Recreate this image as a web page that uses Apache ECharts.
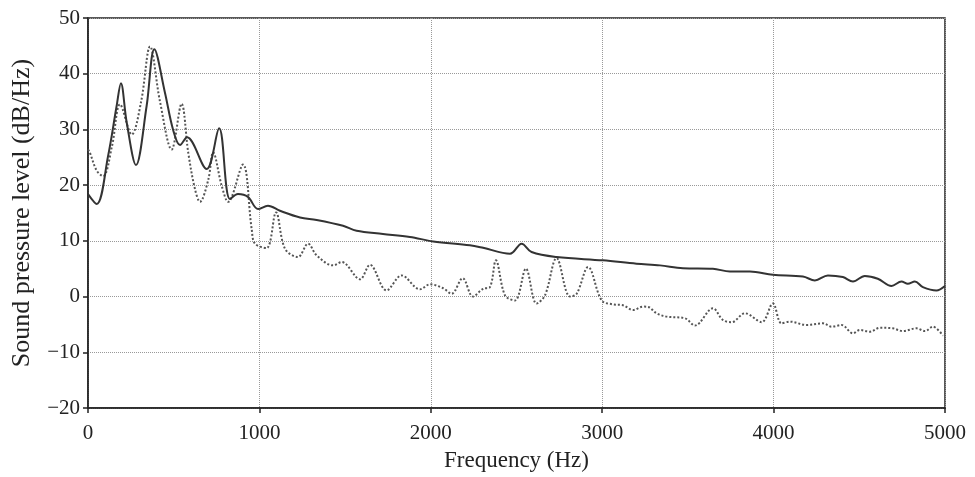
<!DOCTYPE html>
<html>
<head>
<meta charset="utf-8">
<script src="https://cdn.jsdelivr.net/npm/echarts@6/dist/echarts.min.js"></script>
<style>html,body{margin:0;padding:0;background:#fff}#c{width:975px;height:477px}</style>
</head>
<body>
<div id="c"></div>
<script>
var xTicks = [0, 1000, 2000, 3000, 4000, 5000];
var yTicks = [-20, -10, 0, 10, 20, 30, 40, 50];

var solidFreq = [0, 51, 117, 167, 192, 226, 280, 342, 387, 449, 496, 537, 578, 692, 765, 828, 875, 933, 992, 1050, 1120, 1237, 1334, 1488, 1567, 1721, 1878, 2014, 2228, 2305, 2462, 2530, 2588, 2734, 3004, 3200, 3337, 3471, 3646, 3745, 3862, 3996, 4171, 4241, 4317, 4404, 4463, 4532, 4608, 4688, 4746, 4783, 4824, 4871, 4950, 5000];
var solidLevel = [18.4, 16.6, 25.2, 34.2, 38.3, 31.2, 23.6, 34.2, 44.4, 36.6, 30.0, 27.2, 28.6, 22.9, 30.2, 17.5, 18.4, 17.9, 15.7, 16.3, 15.4, 14.2, 13.75, 12.7, 11.8, 11.25, 10.7, 9.9, 9.2, 8.75, 7.7, 9.5, 8.0, 7.1, 6.5, 5.9, 5.6, 5.1, 5.0, 4.5, 4.5, 3.9, 3.6, 2.9, 3.8, 3.5, 2.7, 3.7, 3.2, 1.9, 2.7, 2.3, 2.7, 1.7, 1.1, 1.9];

var dottedFreq = [0, 10, 51, 88, 140, 187, 255, 310, 362, 420, 488, 546, 585, 624, 653, 702, 730, 780, 817, 904, 955, 974, 1042, 1097, 1149, 1225, 1284, 1334, 1430, 1480, 1587, 1645, 1742, 1830, 1937, 1995, 2072, 2121, 2186, 2246, 2305, 2345, 2380, 2433, 2491, 2555, 2617, 2666, 2734, 2812, 2851, 2918, 2997, 3063, 3121, 3180, 3238, 3267, 3317, 3376, 3483, 3541, 3646, 3704, 3755, 3833, 3930, 3996, 4046, 4095, 4192, 4288, 4338, 4397, 4463, 4503, 4562, 4620, 4696, 4754, 4834, 4883, 4929, 4988];
var dottedLevel = [26.4, 25.9, 22.6, 21.6, 27.0, 34.5, 29.1, 35.0, 44.9, 35.0, 26.4, 34.6, 25.8, 19.3, 17.0, 21.0, 25.9, 19.9, 17.0, 23.7, 12.1, 9.5, 8.7, 15.1, 8.6, 7.1, 9.5, 7.4, 5.6, 6.2, 3.1, 5.7, 1.1, 3.8, 1.3, 2.2, 1.5, 0.5, 3.3, 0.0, 1.4, 1.7, 6.5, 0.2, -0.7, 5.0, -1.25, 0.2, 6.9, 0.0, 0.5, 5.3, -0.7, -1.4, -1.55, -2.4, -1.8, -1.85, -3.0, -3.6, -3.9, -5.2, -2.1, -4.2, -4.6, -3.0, -4.6, -1.25, -4.8, -4.5, -5.1, -4.8, -5.4, -5.1, -6.6, -6.0, -6.3, -5.6, -5.7, -6.2, -5.7, -6.2, -5.4, -7.0];

function pairs(xs, ys) { return xs.map(function (x, i) { return [x, ys[i]]; }); }

var font = 'Liberation Serif';
var chart = echarts.init(document.getElementById('c'), null, { renderer: 'canvas' });
chart.setOption({
  animation: false,
  backgroundColor: '#fff',
  grid: { left: 88, right: 30, top: 18, bottom: 65, show: true, borderColor: '#222', borderWidth: 1.5, backgroundColor: 'transparent' },
  xAxis: {
    type: 'value', min: xTicks[0], max: xTicks[xTicks.length - 1], interval: 1000,
    name: 'Frequency (Hz)', nameLocation: 'middle', nameGap: 41,
    nameTextStyle: { fontFamily: font, fontSize: 23, color: '#222' },
    axisLine: { show: true, onZero: false, lineStyle: { color: '#222', width: 1.5 } },
    axisTick: { show: true, inside: false, length: 5, lineStyle: { color: '#222', width: 1.5 } },
    axisLabel: { fontFamily: font, fontSize: 21, color: '#222', margin: 15,
      formatter: function (v) { return String(v); } },
    splitLine: { show: true, lineStyle: { color: '#999', type: 'dotted', width: 1 } }
  },
  yAxis: {
    type: 'value', min: yTicks[0], max: yTicks[yTicks.length - 1], interval: 10,
    name: 'Sound pressure level (dB/Hz)', nameLocation: 'middle', nameGap: 53, nameRotate: 90,
    nameTextStyle: { fontFamily: font, fontSize: 26, color: '#222' },
    axisLine: { show: true, onZero: false, lineStyle: { color: '#222', width: 1.5 } },
    axisTick: { show: true, inside: false, length: 5, lineStyle: { color: '#222', width: 1.5 } },
    axisLabel: { fontFamily: font, fontSize: 21, color: '#222', margin: 8,
      formatter: function (v) { return v < 0 ? '\u2212' + Math.abs(v) : String(v); } },
    splitLine: { show: true, lineStyle: { color: '#999', type: 'dotted', width: 1 } }
  },
  series: [
    { type: 'line', data: pairs(dottedFreq, dottedLevel), smooth: 0.35, showSymbol: false,
      lineStyle: { color: '#555', width: 2, type: 'dotted' } },
    { type: 'line', data: pairs(solidFreq, solidLevel), smooth: 0.35, showSymbol: false,
      lineStyle: { color: '#333', width: 2 } }
  ]
});
</script>
</body>
</html>
